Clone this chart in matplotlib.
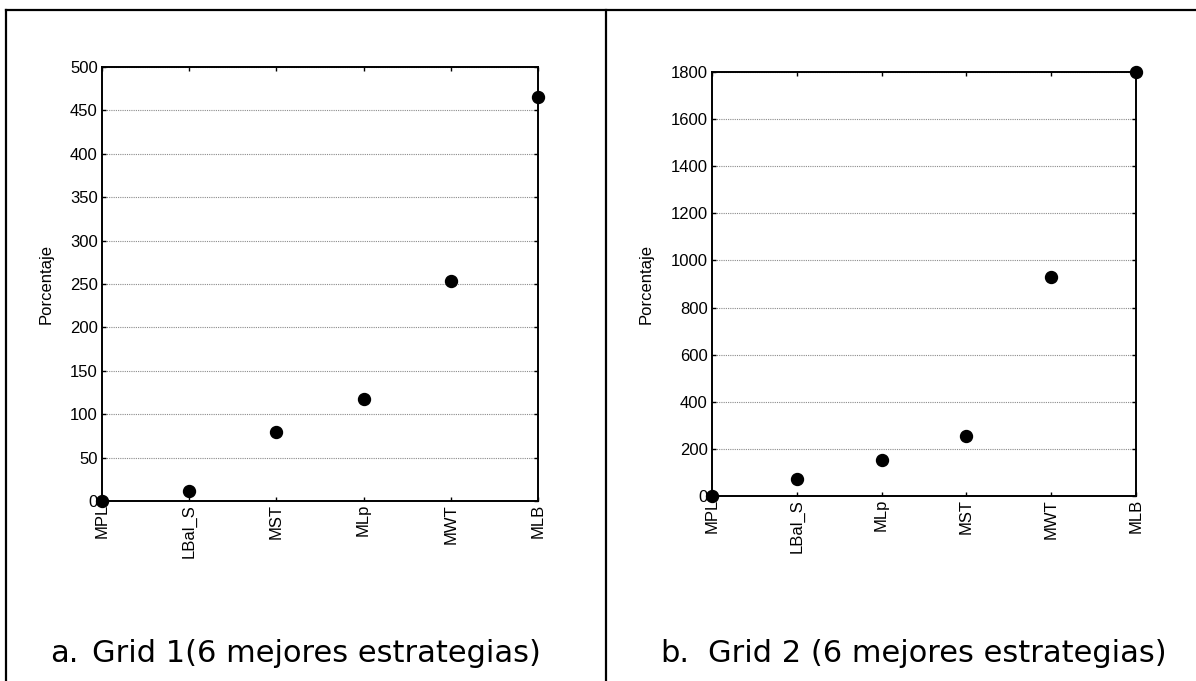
import matplotlib
matplotlib.use("Agg")
import matplotlib.pyplot as plt
from matplotlib.lines import Line2D

plt.rcParams['font.family'] = ['Liberation Sans', 'DejaVu Sans']

cats1 = ["MPL", "LBal_S", "MST", "MLp", "MWT", "MLB"]
vals1 = [0, 11, 80, 118, 253, 465]
yticks1 = [0, 50, 100, 150, 200, 250, 300, 350, 400, 450, 500]

cats2 = ["MPL", "LBal_S", "MLp", "MST", "MWT", "MLB"]
vals2 = [0, 72, 153, 253, 930, 1800]
yticks2 = [0, 200, 400, 600, 800, 1000, 1200, 1400, 1600, 1800]

caption_letters = ["a.", "b."]
caption_texts = ["Grid 1(6 mejores estrategias)", "Grid 2 (6 mejores estrategias)"]

W, H = 1196, 681
fig = plt.figure(figsize=(W / 100, H / 100), dpi=100)

def px_rect(x0, y0, x1, y1):
    return [x0 / W, 1 - y1 / H, (x1 - x0) / W, (y1 - y0) / H]

def draw(ax, cats, vals, yticks):
    x = list(range(len(cats)))
    ax.plot(x, vals, linestyle='none', marker='o', markersize=8.6,
            color='black', clip_on=False, zorder=5)
    ax.set_xlim(0, len(cats) - 1)
    ax.set_ylim(yticks[0], yticks[-1])
    ax.set_xticks(x)
    ax.set_xticklabels(cats, rotation=90, fontsize=12)
    ax.set_yticks(yticks)
    ax.set_yticklabels([str(t) for t in yticks], fontsize=12)
    ax.tick_params(axis='both', direction='in', length=3, width=1,
                   top=True, right=True, pad=2)
    ax.tick_params(axis='y', pad=3)
    ax.yaxis.grid(True, linestyle=(0, (1, 1)), color='#8a8a8a', linewidth=0.8)
    ax.set_axisbelow(True)
    for s in ax.spines.values():
        s.set_linewidth(1.4)
        s.set_color('black')
    ax.set_ylabel("Porcentaje", fontsize=12, labelpad=12)

ax1 = fig.add_axes(px_rect(102, 67, 538, 501))
draw(ax1, cats1, vals1, yticks1)
ax2 = fig.add_axes(px_rect(712, 72, 1136, 496))
draw(ax2, cats2, vals2, yticks2)

fs = 22
cfont = ['DejaVu Sans']
fig.text(50 / W, 1 - 654 / H, caption_letters[0], fontsize=fs, va='center', ha='left', family=cfont)
fig.text(92 / W, 1 - 654 / H, caption_texts[0], fontsize=fs, va='center', ha='left', family=cfont)
fig.text(660 / W, 1 - 654 / H, caption_letters[1], fontsize=fs, va='center', ha='left', family=cfont)
fig.text(708 / W, 1 - 654 / H, caption_texts[1], fontsize=fs, va='center', ha='left', family=cfont)

# table frame
lw = 1.6
fig.add_artist(Line2D([6 / W, 1.0], [1 - 10 / H, 1 - 10 / H], color='black', lw=lw,
                      transform=fig.transFigure))
fig.add_artist(Line2D([6 / W, 6 / W], [0, 1 - 10 / H], color='black', lw=lw,
                      transform=fig.transFigure))
fig.add_artist(Line2D([606 / W, 606 / W], [0, 1 - 10 / H], color='black', lw=lw,
                      transform=fig.transFigure))

fig.savefig("out.png", dpi=100, facecolor='white')
